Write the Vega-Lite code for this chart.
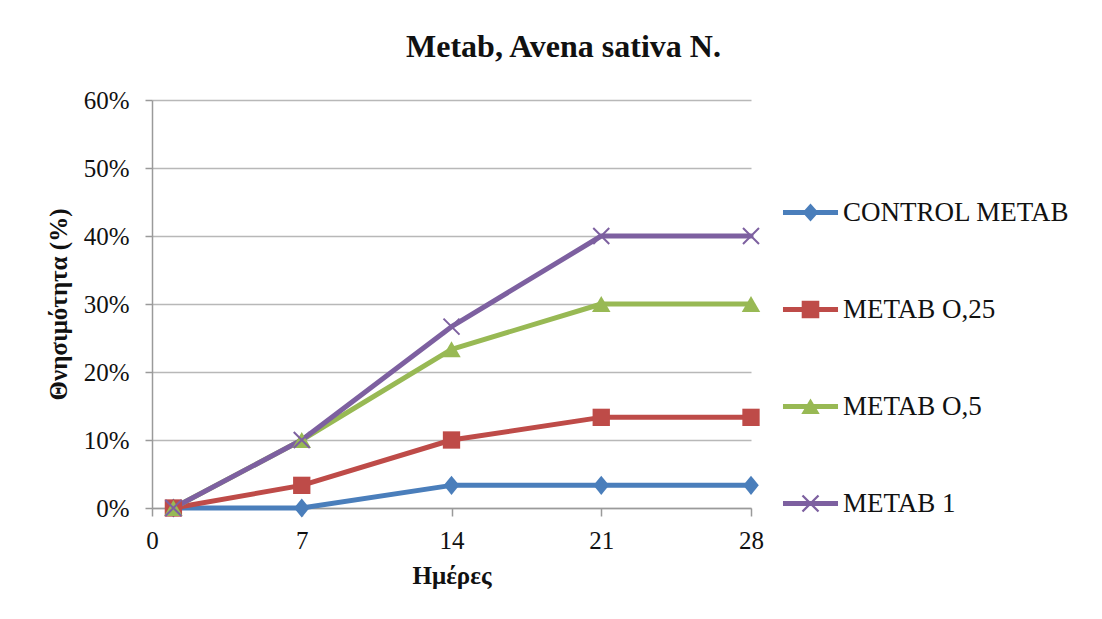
{
  "$schema": "https://vega.github.io/schema/vega-lite/v6.json",
  "width": 599,
  "height": 408,
  "autosize": "none",
  "padding": {"left": 152, "top": 100, "right": 351, "bottom": 111},
  "background": "white",
  "config": {
    "font": "Liberation Serif",
    "view": {"stroke": null},
    "axis": {
      "labelFont": "Liberation Serif",
      "labelFontSize": 25,
      "labelColor": "#111111",
      "titleFont": "Liberation Serif",
      "titleFontSize": 25,
      "titleFontWeight": "bold",
      "titleColor": "#111111",
      "domainColor": "#9A9A9A",
      "domainWidth": 1.5,
      "tickColor": "#9A9A9A",
      "tickWidth": 1.5,
      "gridColor": "#B8B8B8",
      "gridWidth": 1.5
    }
  },
  "title": {
    "text": "Metab, Avena sativa N.",
    "font": "Liberation Serif",
    "fontSize": 32,
    "fontWeight": "bold",
    "color": "#111111",
    "anchor": "middle",
    "dx": 112,
    "offset": 24
  },
  "resolve": {"legend": {"color": "independent", "shape": "independent"}},
  "data": {
    "values": [
      {"day": 1, "series": "CONTROL METAB", "mortality": 0},
      {"day": 7, "series": "CONTROL METAB", "mortality": 0},
      {"day": 14, "series": "CONTROL METAB", "mortality": 0.0333},
      {"day": 21, "series": "CONTROL METAB", "mortality": 0.0333},
      {"day": 28, "series": "CONTROL METAB", "mortality": 0.0333},
      {"day": 1, "series": "METAB O,25", "mortality": 0},
      {"day": 7, "series": "METAB O,25", "mortality": 0.0333},
      {"day": 14, "series": "METAB O,25", "mortality": 0.1},
      {"day": 21, "series": "METAB O,25", "mortality": 0.1333},
      {"day": 28, "series": "METAB O,25", "mortality": 0.1333},
      {"day": 1, "series": "METAB O,5", "mortality": 0},
      {"day": 7, "series": "METAB O,5", "mortality": 0.1},
      {"day": 14, "series": "METAB O,5", "mortality": 0.2333},
      {"day": 21, "series": "METAB O,5", "mortality": 0.3},
      {"day": 28, "series": "METAB O,5", "mortality": 0.3},
      {"day": 1, "series": "METAB 1", "mortality": 0},
      {"day": 7, "series": "METAB 1", "mortality": 0.1},
      {"day": 14, "series": "METAB 1", "mortality": 0.2667},
      {"day": 21, "series": "METAB 1", "mortality": 0.4},
      {"day": 28, "series": "METAB 1", "mortality": 0.4}
    ]
  },
  "encoding": {
    "x": {
      "field": "day",
      "type": "quantitative",
      "scale": {"domain": [0, 28], "nice": false, "zero": false},
      "axis": {
        "title": "Ημέρες",
        "values": [0, 7, 14, 21, 28],
        "grid": false,
        "tickSize": 8,
        "labelFlush": false,
        "labelPadding": 12,
        "titlePadding": 10
      }
    },
    "y": {
      "field": "mortality",
      "type": "quantitative",
      "scale": {"domain": [0, 0.6], "nice": false},
      "axis": {
        "title": "Θνησιμότητα (%)",
        "format": ".0%",
        "values": [0, 0.1, 0.2, 0.3, 0.4, 0.5, 0.6],
        "grid": true,
        "tickSize": 7,
        "labelFlush": false,
        "labelPadding": 16,
        "titlePadding": 12
      }
    }
  },
  "layer": [
    {
      "mark": {"type": "line", "strokeWidth": 5, "strokeJoin": "round", "strokeCap": "round"},
      "encoding": {
        "color": {
          "field": "series",
          "type": "nominal",
          "scale": {
            "domain": ["CONTROL METAB", "METAB O,25", "METAB O,5", "METAB 1"],
            "range": ["#4A7EBB", "#BE4B48", "#98B954", "#7D60A0"]
          },
          "legend": null
        }
      }
    },
    {
      "transform": [{"filter": "datum.series === 'CONTROL METAB'"}],
      "mark": {"type": "point", "filled": true, "opacity": 1, "shape": "M0,-1.1L0.9,0L0,1.1L-0.9,0Z", "size": 300},
      "encoding": {"color": {"field": "series", "type": "nominal", "legend": null}}
    },
    {
      "transform": [{"filter": "datum.series === 'METAB O,25'"}],
      "mark": {"type": "point", "filled": true, "opacity": 1, "shape": "square", "size": 300},
      "encoding": {"color": {"field": "series", "type": "nominal", "legend": null}}
    },
    {
      "transform": [{"filter": "datum.series === 'METAB O,5'"}],
      "mark": {"type": "point", "filled": true, "opacity": 1, "shape": "triangle-up", "size": 340},
      "encoding": {"color": {"field": "series", "type": "nominal", "legend": null}}
    },
    {
      "transform": [{"filter": "datum.series === 'METAB 1'"}],
      "mark": {"type": "point", "filled": false, "opacity": 1, "strokeWidth": 2, "shape": "M-1,-1L1,1M1,-1L-1,1", "size": 256},
      "encoding": {"color": {"field": "series", "type": "nominal", "legend": null}}
    },
    {
      "mark": {"type": "point", "filled": true, "opacity": 0, "size": 256},
      "encoding": {
        "color": {
          "field": "series",
          "type": "nominal",
          "legend": {
            "title": null,
            "orient": "none",
            "legendX": 645,
            "legendY": 99,
            "direction": "vertical",
            "padding": 0,
            "symbolSize": 256,
            "symbolStrokeWidth": 0,
            "symbolOpacity": 1,
            "labelFont": "Liberation Serif",
            "labelFontSize": 27,
            "labelColor": "#111111",
            "labelOffset": 19,
            "rowPadding": 69,
            "labelLimit": 400
          }
        },
        "shape": {
          "field": "series",
          "type": "nominal",
          "scale": {
            "domain": ["CONTROL METAB", "METAB O,25", "METAB O,5", "METAB 1"],
            "range": [
              "M-3.44,-0.31H3.44V0.31H-3.44Z M0,-1.125L1,0L0,1.125L-1,0Z",
              "M-3.44,-0.31H3.44V0.31H-3.44Z M-1.1,-1.1H1.1V1.1H-1.1Z",
              "M-3.44,-0.31H3.44V0.31H-3.44Z M0,-1L1.15,0.95H-1.15Z",
              "M-3.44,-0.31H3.44V0.31H-3.44Z M-0.9,-1.1L1.1,0.9L0.9,1.1L-1.1,-0.9Z M-1.1,0.9L0.9,-1.1L1.1,-0.9L-0.9,1.1Z"
            ]
          },
          "legend": {
            "title": null,
            "orient": "none",
            "legendX": 645,
            "legendY": 99,
            "direction": "vertical",
            "padding": 0,
            "symbolSize": 256,
            "symbolStrokeWidth": 0,
            "symbolOpacity": 1,
            "labelFont": "Liberation Serif",
            "labelFontSize": 27,
            "labelColor": "#111111",
            "labelOffset": 19,
            "rowPadding": 69,
            "labelLimit": 400
          }
        }
      }
    }
  ]
}
